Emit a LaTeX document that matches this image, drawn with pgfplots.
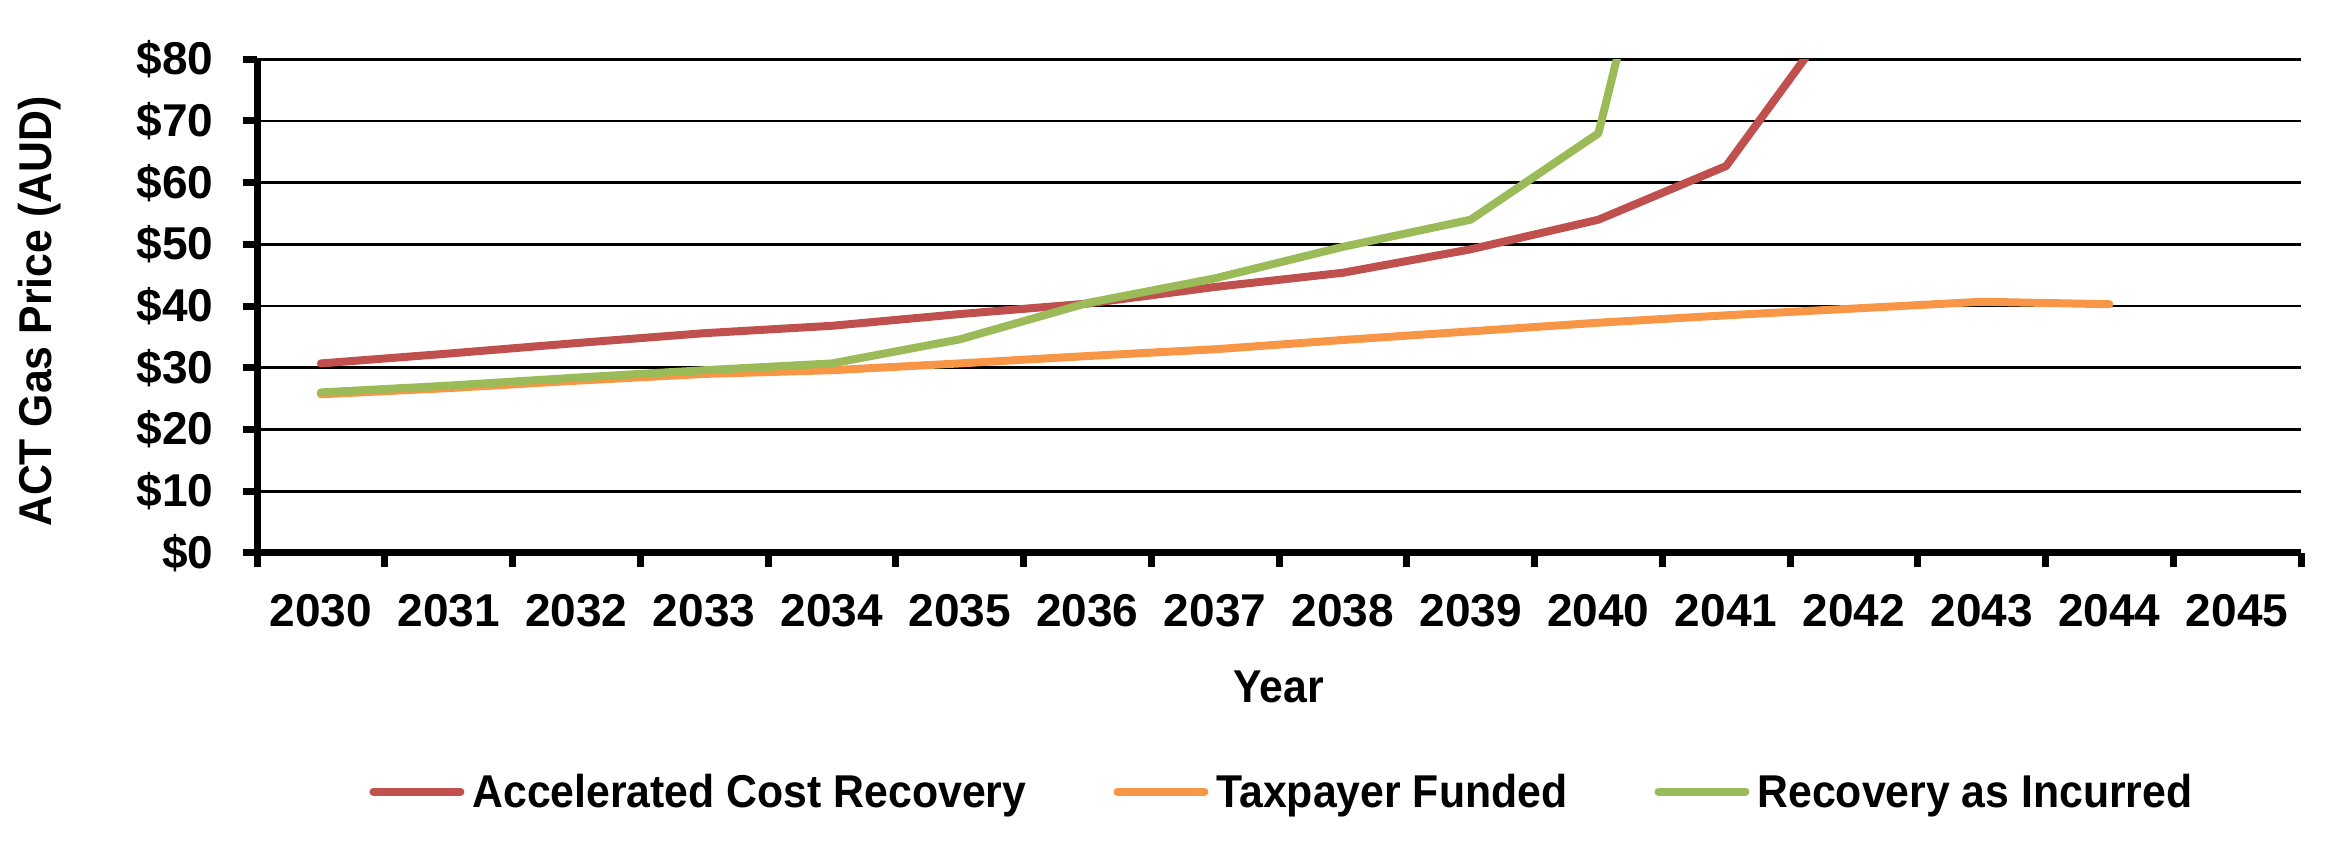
\documentclass[border=0pt]{standalone}
\usepackage{fontspec}
\setmainfont{Liberation Sans}
\newfontfamily\narrowfont[FakeStretch=0.93]{Liberation Sans}
\usepackage{pgfplots}
\pgfplotsset{compat=1.18}
\definecolor{cRed}{HTML}{C0504D}
\definecolor{cOrange}{HTML}{F79646}
\definecolor{cGreen}{HTML}{9BBB59}
\newcommand{\tickfont}{\fontsize{9.2}{11}\selectfont\bfseries}
\newcommand{\labfont}{\narrowfont\fontsize{9.2}{11}\selectfont\bfseries}
\begin{document}
\begin{tikzpicture}
\begin{axis}[name=ax,
  scale only axis, width=408.8pt, height=98.7pt,
  xmin=-0.5, xmax=15.5, ymin=0, ymax=80,
  axis lines*=left,
  axis line style={line width=1.4pt},
  xtick={0,...,15},
  xticklabels={2030,2031,2032,2033,2034,2035,2036,2037,2038,2039,2040,2041,2042,2043,2044,2045},
  ytick={0,10,...,80},
  yticklabels={\$0,\$10,\$20,\$30,\$40,\$50,\$60,\$70,\$80},
  minor xtick={-0.5,0.5,...,15.5},
  minor ytick={0,10,...,80},
  major tick length=0pt, minor tick length=2.9pt, tick align=outside,
  tick style={black, line width=1.4pt},
  ymajorgrids, major grid style={black, line width=0.55pt},
  ticklabel style={font=\tickfont},
  xticklabel style={anchor=base, yshift=-14.78pt},
  yticklabel style={anchor=east, inner sep=0pt, xshift=-8.5pt},
  ylabel={ACT Gas Price (AUD)},
  ylabel style={font=\labfont, at={(axis description cs:-0.10044,0.4885)}, anchor=base},
  xlabel={Year},
  xlabel style={font=\labfont, at={(axis description cs:0.5,-0.3037)}, anchor=base},
  legend style={at={(axis description cs:0.0550,-0.490)}, anchor=west, draw=none, fill=none,
    inner sep=0pt, outer sep=0pt, legend columns=3, font=\labfont, nodes={inner sep=0pt},
    /tikz/every odd column/.append style={column sep=1.6pt},
    /tikz/every even column/.append style={column sep=17.4pt}},
  legend image code/.code={\draw[#1, line width=1.6pt, line cap=round] (0pt,0.6pt) -- (17.4pt,0.6pt);},
  every axis plot/.append style={line width=1.6pt, line join=round, line cap=round},
]
\addplot[cRed] coordinates {(0,30.7) (1,32.3) (2,34.0) (3,35.6) (4,36.8) (5,38.7) (6,40.4) (7,43.1) (8,45.4) (9,49.2) (10,54.0) (11,62.7) (12,91.0)};
\addlegendentry{Accelerated Cost Recovery}
\addplot[cOrange] coordinates {(0,25.7) (1,26.7) (2,27.9) (3,29.0) (4,29.6) (5,30.7) (6,31.9) (7,33.0) (8,34.5) (9,35.9) (10,37.3) (11,38.5) (12,39.6) (13,40.7) (14,40.3)};
\addlegendentry{Taxpayer Funded}
\addplot[cGreen] coordinates {(0,26.0) (1,27.1) (2,28.4) (3,29.6) (4,30.7) (5,34.6) (6,40.5) (7,44.5) (8,49.6) (9,54.0) (10,68.0) (11,151.8)};
\addlegendentry{Recovery as Incurred}
\end{axis}
\pgfresetboundingbox
\useasboundingbox ([shift={(-51.4pt,-58.84pt)}]ax.south west) rectangle ([shift={(7.4pt,11.86pt)}]ax.north east);
\end{tikzpicture}
\end{document}
